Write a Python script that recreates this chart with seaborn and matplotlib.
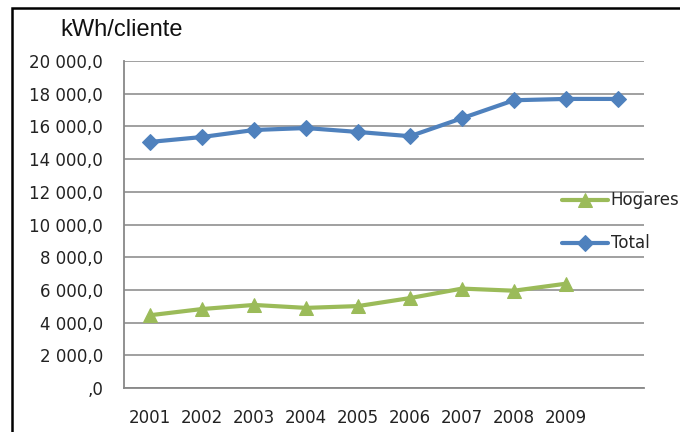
import numpy as np
import pandas as pd
import seaborn as sns
import matplotlib.pyplot as plt
from matplotlib.patches import Rectangle

# Values
year_labels = ['2001', '2002', '2003', '2004', '2005', '2006', '2007', '2008', '2009', '']
total = [15050, 15350, 15780, 15900, 15660, 15400, 16500, 17600, 17680, 17680]
hogares = [4450, 4830, 5080, 4900, 5010, 5500, 6080, 5950, 6380]
yticks = [0, 2000, 4000, 6000, 8000, 10000, 12000, 14000, 16000, 18000, 20000]
ytick_labels = [',0', '2 000,0', '4 000,0', '6 000,0', '8 000,0', '10 000,0',
                '12 000,0', '14 000,0', '16 000,0', '18 000,0', '20 000,0']

blue = '#4F81BD'
green = '#9BBB59'

df_total = pd.DataFrame({'pos': np.arange(len(total)), 'kwh': total})
df_hog = pd.DataFrame({'pos': np.arange(len(hogares)), 'kwh': hogares})

sns.set_style('white')
plt.rcParams['font.family'] = ['DejaVu Sans']

fig = plt.figure(figsize=(6.8, 4.32), dpi=100)
ax = fig.add_axes([124 / 680, 1 - 388 / 432, 520 / 680, 327 / 432])

# Plot the two series
sns.lineplot(data=df_hog, x='pos', y='kwh', ax=ax, color=green, lw=3,
             marker='^', markersize=10, markeredgecolor=green, label='Hogares')
sns.lineplot(data=df_total, x='pos', y='kwh', ax=ax, color=blue, lw=3,
             marker='D', markersize=8, markeredgecolor=blue, label='Total')

# Axes styling
ax.set_xlim(-0.5, 9.5)
ax.set_ylim(0, 20000)
ax.set_yticks(yticks)
ax.set_yticklabels(ytick_labels, fontsize=12, color='#222222')
ax.set_xticks(np.arange(len(year_labels)))
ax.set_xticklabels(year_labels, fontsize=12, color='#222222')
ax.set_xticks(np.arange(-0.5, 10, 1), minor=True)
ax.tick_params(axis='x', which='major', length=0, pad=15)
ax.tick_params(axis='x', which='minor', length=5, width=1.2, color='#888888')
ax.tick_params(axis='y', length=5, width=1.2, color='#888888', pad=10)
ax.set_xlabel('')
ax.set_ylabel('')
ax.grid(axis='y', color='#999999', lw=1.3)
for side in ['top', 'right']:
    ax.spines[side].set_visible(False)
for side in ['left', 'bottom']:
    ax.spines[side].set_color('#888888')
    ax.spines[side].set_linewidth(1.3)

# Legend outside the plot on the right
ax.legend(loc='center left', bbox_to_anchor=(555 / 680, 1 - 222 / 432),
          bbox_transform=fig.transFigure, frameon=False, fontsize=12,
          handlelength=2.8, handletextpad=0.15, labelspacing=1.5,
          borderaxespad=0)

fig.text(60 / 680, 1 - 30 / 432, 'kWh/cliente', fontsize=17,
         family='Liberation Sans', va='center', ha='left', color='#111111')

# Chart frame
fig.patches.append(Rectangle((12 / 680, -0.1), 1.0, 1 - 8 / 432 + 0.1,
                             transform=fig.transFigure, fill=False,
                             edgecolor='black', lw=1.8))

fig.savefig('out.png', dpi=100)
